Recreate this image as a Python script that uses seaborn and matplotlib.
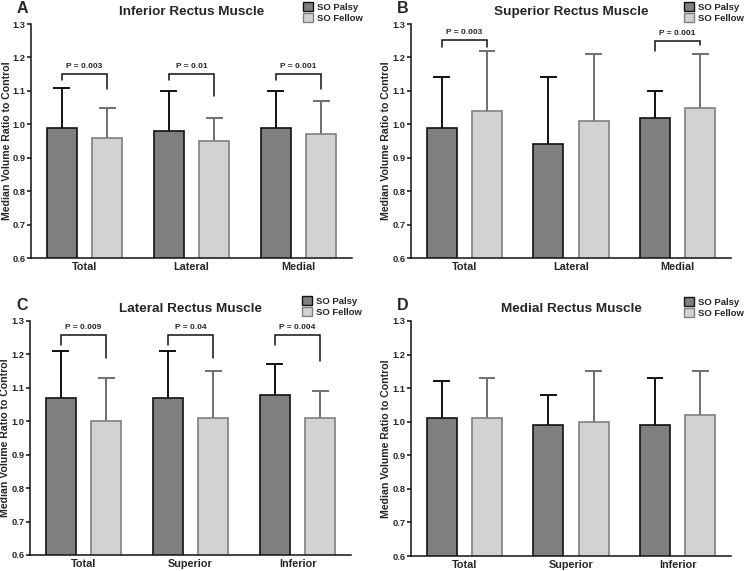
import pandas as pd
import matplotlib.pyplot as plt
import matplotlib.patches as patches
import seaborn as sns

# ---- data ----
series = ["SO Palsy", "SO Fellow"]

groups_a = ["Total", "Lateral", "Medial"]
palsy_a = [0.99, 0.98, 0.99]
palsy_a_up = [1.11, 1.10, 1.10]
fellow_a = [0.96, 0.95, 0.97]
fellow_a_up = [1.05, 1.02, 1.07]
pvals_a = ["P = 0.003", "P = 0.01", "P = 0.001"]

groups_b = ["Total", "Lateral", "Medial"]
palsy_b = [0.99, 0.94, 1.02]
palsy_b_up = [1.14, 1.14, 1.10]
fellow_b = [1.04, 1.01, 1.05]
fellow_b_up = [1.22, 1.21, 1.21]
pvals_b = ["P = 0.003", None, "P = 0.001"]

groups_c = ["Total", "Superior", "Inferior"]
palsy_c = [1.07, 1.07, 1.08]
palsy_c_up = [1.21, 1.21, 1.17]
fellow_c = [1.00, 1.01, 1.01]
fellow_c_up = [1.13, 1.15, 1.09]
pvals_c = ["P = 0.009", "P = 0.04", "P = 0.004"]

groups_d = ["Total", "Superior", "Inferior"]
palsy_d = [1.01, 0.99, 0.99]
palsy_d_up = [1.12, 1.08, 1.13]
fellow_d = [1.01, 1.00, 1.02]
fellow_d_up = [1.13, 1.15, 1.15]
pvals_d = [None, None, None]

# bracket layout: (top, left leg end, right leg end) per group
brk_a = [(1.15, 1.133, 1.106), (1.15, 1.132, 1.086), (1.15, 1.132, 1.106)]
brk_b = [(1.253, 1.232, 1.232), None, (1.25, 1.218, 1.236)]
brk_c = [(1.257, 1.227, 1.19), (1.257, 1.227, 1.19), (1.257, 1.227, 1.18)]
brk_d = [None, None, None]

FILL = {"SO Palsy": "#7f7f7f", "SO Fellow": "#d2d2d2"}
EDGE = {"SO Palsy": "#111111", "SO Fellow": "#808080"}
ERRC = {"SO Palsy": "#111111", "SO Fellow": "#6f6f6f"}

sns.set_style("ticks")
plt.rcParams["font.family"] = ["Liberation Sans", "DejaVu Sans"]
plt.rcParams["font.weight"] = "bold"

W, H = 744, 571
fig = plt.figure(figsize=(W / 100, H / 100), dpi=100)


def px_axes(x0, y0, x1, y1):
    return fig.add_axes([x0 / W, 1 - y1 / H, (x1 - x0) / W, (y1 - y0) / H])


def draw_panel(ax, letter, title, groups, palsy, palsy_up, fellow, fellow_up,
               pvals, brks, leg_px, ylab_x):
    df = pd.DataFrame({
        "group": groups * 2,
        "series": [series[0]] * 3 + [series[1]] * 3,
        "value": palsy + fellow,
    })
    sns.barplot(data=df, x="group", y="value", hue="series", hue_order=series,
                palette=FILL, width=0.85, gap=0.34, ax=ax, legend=False,
                errorbar=None, saturation=1, linewidth=1.2, zorder=2)
    ups = {series[0]: palsy_up, series[1]: fellow_up}
    centers = {}
    for s, cont in zip(series, ax.containers):
        xs = []
        for i, bar in enumerate(cont.patches):
            bar.set_edgecolor(EDGE[s])
            cx = bar.get_x() + bar.get_width() / 2
            xs.append(cx)
            top = bar.get_height()
            up = ups[s][i]
            ax.vlines(cx, top, up, color=ERRC[s], lw=1.4, zorder=1)
            hw = bar.get_width() * 0.28
            ax.hlines(up, cx - hw, cx + hw, color=ERRC[s], lw=1.4, zorder=1)
        centers[s] = xs

    for i, (p, b) in enumerate(zip(pvals, brks)):
        if p is None:
            continue
        top, lft, rgt = b
        x0, x1 = centers[series[0]][i], centers[series[1]][i]
        ax.plot([x0, x0, x1, x1], [lft, top, top, rgt], color="#111111", lw=1.1,
                solid_joinstyle="miter", clip_on=False)
        ax.text((x0 + x1) / 2, top + 0.012, p, ha="center", va="bottom",
                fontsize=6.0, fontweight="bold")

    ax.set_ylim(0.6, 1.3)
    ax.set_xlim(-0.5, 2.5)
    ax.set_yticks([0.6, 0.7, 0.8, 0.9, 1.0, 1.1, 1.2, 1.3])
    ax.set_yticklabels([f"{v:.1f}" for v in ax.get_yticks()])
    ax.set_xlabel("")
    ax.set_ylabel("Median Volume Ratio to Control", fontsize=7.6, fontweight="bold")
    ax.yaxis.set_label_coords(ylab_x, 0.5)
    ax.tick_params(axis="y", labelsize=6.7, length=3, width=1.1, pad=1, color="#111111")
    ax.tick_params(axis="x", labelsize=7.8, length=0, pad=3)
    for lab in ax.get_xticklabels() + ax.get_yticklabels():
        lab.set_fontweight("bold")
    sns.despine(ax=ax)
    for sp in ["left", "bottom"]:
        ax.spines[sp].set_linewidth(1.1)
        ax.spines[sp].set_color("#111111")

    ax.set_title(title, fontsize=9.7, fontweight="bold", pad=6.5)
    pos = ax.get_position()
    ax.text(pos.x0 - 14 / W, pos.y1 + 8 / H, letter, transform=fig.transFigure,
            fontsize=11.5, fontweight="bold", ha="left", va="bottom")

    handles = [patches.Patch(facecolor=FILL[s], edgecolor=EDGE[s], lw=1.0, label=s) for s in series]
    ax.legend(handles=handles, loc="upper left", frameon=False,
              bbox_to_anchor=(leg_px[0] / W, 1 - leg_px[1] / H), bbox_transform=fig.transFigure,
              handlelength=1.05, handleheight=1.05, handletextpad=0.4,
              labelspacing=0.2, borderpad=0, borderaxespad=0,
              prop={"weight": "bold", "size": 6.8})


ax_a = px_axes(31, 24, 352, 258)
ax_b = px_axes(411, 24, 731, 258)
ax_c = px_axes(30, 321, 351, 555)
ax_d = px_axes(411, 321, 731, 556)

draw_panel(ax_a, "A", "Inferior Rectus Muscle", groups_a, palsy_a, palsy_a_up,
           fellow_a, fellow_a_up, pvals_a, brk_a, (303, 2), -0.058)
draw_panel(ax_b, "B", "Superior Rectus Muscle", groups_b, palsy_b, palsy_b_up,
           fellow_b, fellow_b_up, pvals_b, brk_b, (684, 2), -0.063)
draw_panel(ax_c, "C", "Lateral Rectus Muscle", groups_c, palsy_c, palsy_c_up,
           fellow_c, fellow_c_up, pvals_c, brk_c, (302, 296), -0.063)
draw_panel(ax_d, "D", "Medial Rectus Muscle", groups_d, palsy_d, palsy_d_up,
           fellow_d, fellow_d_up, pvals_d, brk_d, (684, 297), -0.063)

fig.savefig("out.png", dpi=100)
